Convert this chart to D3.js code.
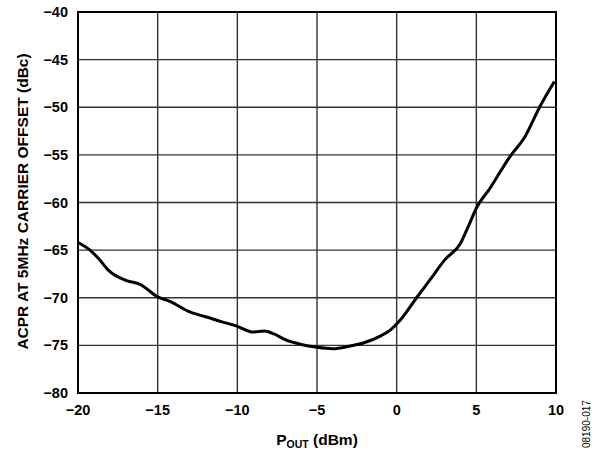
<!DOCTYPE html>
<html>
<head>
<meta charset="utf-8">
<script src="https://cdn.jsdelivr.net/npm/d3@7"></script>
<style>
  body { margin: 0; background: #fff; }
  svg { font-family: "Liberation Sans", Arial, sans-serif; }
  .tick-label { font-size: 14.5px; font-weight: bold; fill: #000; }
  .axis-title { font-size: 15.5px; font-weight: bold; fill: #000; }
</style>
</head>
<body>
<svg id="chart" width="597" height="451"></svg>
<script>
// P_OUT (dBm) and ACPR (dBc)
const pOut = [-20, -19.25, -18.7, -18.1, -16.95, -16.1, -15, -14.2, -13.1, -12, -11, -10,
  -9, -8.3, -7.7, -7, -6, -5, -4, -3, -2, -1, -0.4, 0.2, 1.25, 2.1, 3.03, 4.0, 4.5,
  5.0, 5.86, 7.1, 8.05, 9.0, 9.9];
const acpr = [-64.2, -65.0, -65.9, -67.1, -68.2, -68.6, -69.9, -70.4, -71.4, -72.0, -72.5, -73.0,
  -73.6, -73.5, -73.8, -74.4, -74.9, -75.2, -75.35, -75.1, -74.7, -74.0, -73.4, -72.4, -70.0,
  -68.1, -66.0, -64.3, -62.5, -60.6, -58.5, -55.2, -53.1, -49.9, -47.3];
const xTicks = [-20, -15, -10, -5, 0, 5, 10];
const yTicks = [-40, -45, -50, -55, -60, -65, -70, -75, -80];

const svg = d3.select('#chart');
const margin = { left: 78, top: 12, right: 556, bottom: 393 };

const x = d3.scaleLinear().domain([-20, 10]).range([margin.left, margin.right]);
const y = d3.scaleLinear().domain([-80, -40]).range([margin.bottom, margin.top]);

// Grid lines
const grid = svg.append('g').attr('class', 'grid');
grid.selectAll('line.v').data(xTicks.slice(1, -1)).enter().append('line')
    .attr('x1', d => x(d)).attr('x2', d => x(d))
    .attr('y1', margin.top).attr('y2', margin.bottom)
    .attr('stroke', '#333').attr('stroke-width', 1.4);
grid.selectAll('line.h').data(yTicks.slice(1, -1)).enter().append('line')
    .attr('x1', margin.left).attr('x2', margin.right)
    .attr('y1', d => y(d)).attr('y2', d => y(d))
    .attr('stroke', '#333').attr('stroke-width', 1.4);

// Frame
svg.append('rect')
    .attr('x', margin.left).attr('y', margin.top)
    .attr('width', margin.right - margin.left).attr('height', margin.bottom - margin.top)
    .attr('fill', 'none').attr('stroke', '#000').attr('stroke-width', 2);

// Curve
const line = d3.line()
    .x((d, i) => x(pOut[i]))
    .y(d => y(d))
    .curve(d3.curveMonotoneX);
svg.append('path')
    .attr('d', line(acpr))
    .attr('fill', 'none').attr('stroke', '#000').attr('stroke-width', 3)
    .attr('stroke-linejoin', 'round');

const fmt = d => (d < 0 ? '\u2212' + Math.abs(d) : String(d));

// Tick labels
svg.append('g').selectAll('text').data(xTicks).enter().append('text')
    .attr('class', 'tick-label')
    .attr('x', d => x(d)).attr('y', 415)
    .attr('text-anchor', 'middle')
    .text(fmt);
svg.append('g').selectAll('text').data(yTicks).enter().append('text')
    .attr('class', 'tick-label')
    .attr('x', 68).attr('y', d => y(d) + 5)
    .attr('text-anchor', 'end')
    .text(fmt);

// Axis titles
const xt = svg.append('text').attr('class', 'axis-title')
    .attr('x', 317).attr('y', 445).attr('text-anchor', 'middle');
xt.append('tspan').text('P');
xt.append('tspan').attr('font-size', '10.5px').attr('dy', 3).text('OUT');
xt.append('tspan').attr('dy', -3).text(' (dBm)');

svg.append('text').attr('class', 'axis-title')
    .attr('transform', 'translate(27.5,201.5) rotate(-90)')
    .attr('text-anchor', 'middle')
    .text('ACPR AT 5MHz CARRIER OFFSET (dBc)');

svg.append('text')
    .attr('transform', 'translate(590,448) rotate(-90)')
    .attr('font-size', '10px').attr('fill', '#000')
    .text('08190-017');
</script>
</body>
</html>
